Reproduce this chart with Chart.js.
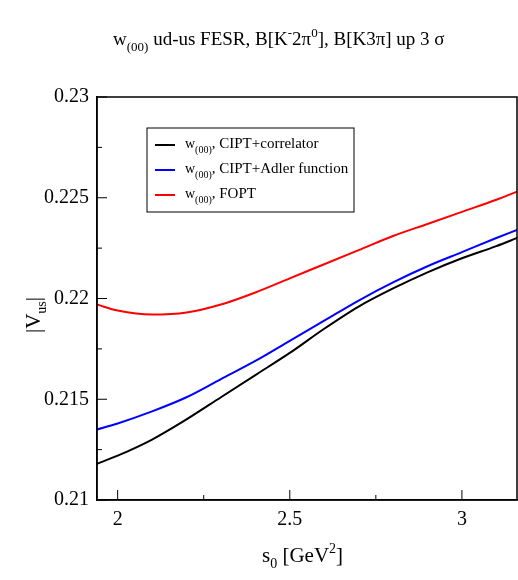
<!DOCTYPE html>
<html>
<head>
<meta charset="utf-8">
<script src="https://cdn.jsdelivr.net/npm/chart.js@4"></script>
<style>
  body { margin: 0; background: #fff; }
  #wrap { width: 518px; height: 580px; }
</style>
</head>
<body>
<div id="wrap"><canvas id="c"></canvas></div>
<script>
const s0 = [1.94, 2.0, 2.1, 2.2, 2.3, 2.4, 2.5, 2.6, 2.7, 2.8, 2.9, 3.0, 3.1, 3.16];
const ciptCorr = [0.2118, 0.2122, 0.2130, 0.2140, 0.2151, 0.2162, 0.2173, 0.2185, 0.2196, 0.2205, 0.2213, 0.2220, 0.2226, 0.2230];
const ciptAdler = [0.2135, 0.2138, 0.2144, 0.2151, 0.2160, 0.2169, 0.2179, 0.2189, 0.2199, 0.2208, 0.2216, 0.2223, 0.2230, 0.2234];
const fopt = [0.2197, 0.2194, 0.2192, 0.2193, 0.2197, 0.2203, 0.2210, 0.2217, 0.2224, 0.2231, 0.2237, 0.2243, 0.2249, 0.2253];
const seriesNames = ['CIPT+correlator', 'CIPT+Adler function', 'FOPT'];
const xTicks = [2, 2.5, 3];
const yTicks = [0.21, 0.215, 0.22, 0.225, 0.23];

const FONT = '"Liberation Serif", serif';
const pts = arr => arr.map((v, i) => ({ x: s0[i], y: v }));

// frame, inward ticks, title, axis titles and legend drawn by hand
const decor = {
  id: 'decor',
  afterDraw(chart) {
    const { ctx, chartArea: a, scales } = chart;
    ctx.save();
    ctx.strokeStyle = '#000';
    ctx.lineWidth = 1.5;
    ctx.strokeRect(a.left, a.top, a.right - a.left, a.bottom - a.top);

    ctx.lineWidth = 1;
    scales.x.ticks.forEach(t => {
      const px = scales.x.getPixelForValue(t.value);
      const len = xTicks.includes(t.value) ? 10 : 5;
      ctx.beginPath(); ctx.moveTo(px, a.bottom); ctx.lineTo(px, a.bottom - len); ctx.stroke();
    });
    scales.y.ticks.forEach(t => {
      const py = scales.y.getPixelForValue(t.value);
      const len = yTicks.some(v => Math.abs(v - t.value) < 1e-6) ? 10 : 5;
      ctx.beginPath(); ctx.moveTo(a.left, py); ctx.lineTo(a.left + len, py); ctx.stroke();
    });

    ctx.fillStyle = '#000';
    ctx.textBaseline = 'alphabetic';
    let x = 113, y = 45;
    const put = (t, size, dy) => {
      ctx.font = size + 'px ' + FONT;
      ctx.fillText(t, x, y + (dy || 0));
      x += ctx.measureText(t).width;
    };
    put('w', 19); put('(00)', 13, 6); put(' ud-us FESR, B[K', 19); put('-', 13, -8);
    put('2π', 19); put('0', 13, -8); put('], B[K3π] up 3 σ', 19);

    x = 262; y = 562;
    put('s', 21); put('0', 14, 6); put(' [GeV', 21); put('2', 14, -9); put(']', 21);

    ctx.save();
    ctx.translate(40, 305);
    ctx.rotate(-Math.PI / 2);
    x = -28; y = 0;
    put('|V', 21); put('us', 14, 6); put('|', 21);
    ctx.restore();

    // legend
    ctx.lineWidth = 1;
    ctx.strokeRect(147, 128, 207, 84);
    chart.data.datasets.forEach((d, i) => {
      const ly = 145 + i * 25;
      ctx.strokeStyle = d.borderColor;
      ctx.lineWidth = 2;
      ctx.beginPath(); ctx.moveTo(155, ly); ctx.lineTo(175, ly); ctx.stroke();
      ctx.fillStyle = '#000';
      x = 185; y = ly + 3;
      put('w', 14); put('(00)', 10, 5); put(', ' + seriesNames[i], 15);
    });
    ctx.restore();
  }
};

new Chart(document.getElementById('c'), {
  type: 'line',
  data: {
    datasets: [
      { label: seriesNames[0], data: pts(ciptCorr), borderColor: '#000000' },
      { label: seriesNames[1], data: pts(ciptAdler), borderColor: '#0000ff' },
      { label: seriesNames[2], data: pts(fopt), borderColor: '#ff0000' }
    ].map(d => Object.assign(d, { borderWidth: 2, pointRadius: 0, cubicInterpolationMode: 'monotone', fill: false }))
  },
  options: {
    responsive: true,
    maintainAspectRatio: false,
    animation: false,
    layout: { padding: { left: 0, right: 1, top: 97, bottom: 40 } },
    plugins: { legend: { display: false }, tooltip: { enabled: false } },
    scales: {
      x: {
        type: 'linear', min: 1.94, max: 3.16,
        afterBuildTicks: ax => { ax.ticks = [2, 2.25, 2.5, 2.75, 3].map(v => ({ value: v })); },
        ticks: {
          color: '#000', font: { family: FONT, size: 20 }, padding: 8,
          callback: v => xTicks.includes(v) ? String(v) : ''
        },
        grid: { drawOnChartArea: false, drawTicks: false },
        border: { color: '#000', width: 1.5 }
      },
      y: {
        min: 0.21, max: 0.23,
        afterFit: ax => { ax.width = 97; },
        afterBuildTicks: ax => {
          const t = [];
          for (let i = 0; i <= 8; i++) t.push({ value: +(0.21 + i * 0.0025).toFixed(4) });
          ax.ticks = t;
        },
        ticks: {
          color: '#000', font: { family: FONT, size: 20 }, padding: 8,
          callback: v => yTicks.some(t => Math.abs(t - v) < 1e-6) ? String(+v.toFixed(3)) : ''
        },
        grid: { drawOnChartArea: false, drawTicks: false },
        border: { color: '#000', width: 1.5 }
      }
    }
  },
  plugins: [decor]
});
</script>
</body>
</html>
